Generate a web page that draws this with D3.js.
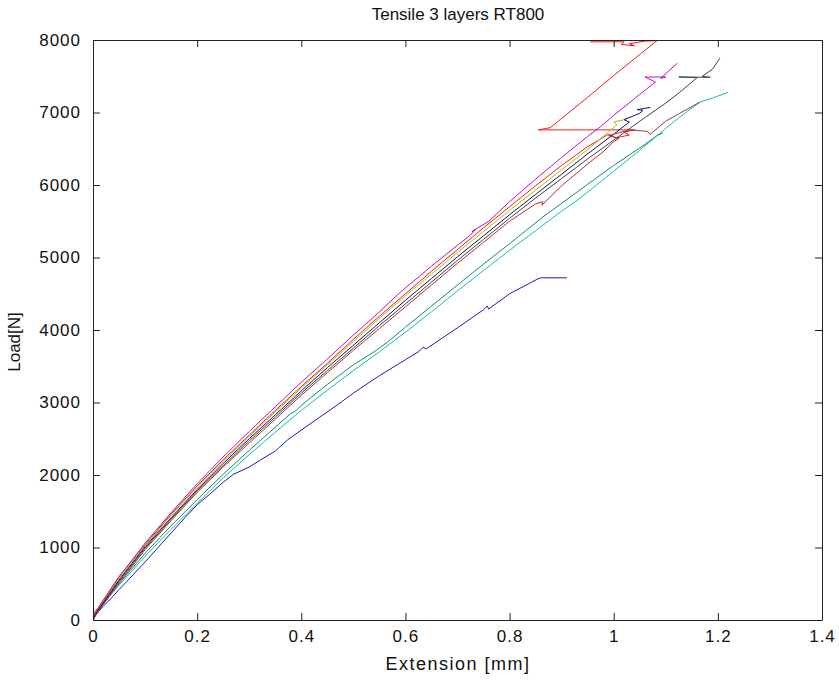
<html>
<head>
    <script src="https://d3js.org/d3.v7.min.js"></script>
    <style>
        body { margin: 0; background: white; }
        text { font-family: "Liberation Sans", Arial, sans-serif; fill: #111; }
        .tick text { font-size: 17px; letter-spacing: 1px; }
    </style>
</head>
<body>
	<script>
        // extension [mm], load [N]
        var blue = [[0,0],[0.004,60],[0.01,110],[0.02,190],[0.035,300],[0.05,420],[0.07,570],[0.1,800],[0.125,1000],[0.15,1200],[0.175,1400],[0.2,1590],[0.225,1740],[0.25,1900],[0.27,2010],[0.3,2110],[0.32,2200],[0.35,2330],[0.373,2480],[0.4,2620],[0.436,2800],[0.47,2970],[0.5,3130],[0.55,3370],[0.6,3590],[0.625,3700],[0.634,3760],[0.64,3740],[0.7,4030],[0.75,4280],[0.757,4330],[0.76,4290],[0.8,4500],[0.853,4700],[0.86,4720],[0.91,4720]];
        var teal = [[0,0],[0.004,80],[0.01,140],[0.03,330],[0.05,500],[0.1,920],[0.15,1300],[0.2,1660],[0.25,2010],[0.3,2340],[0.35,2660],[0.38,2850],[0.39,2890],[0.4,2960],[0.45,3250],[0.5,3520],[0.54,3700],[0.565,3830],[0.6,4040],[0.65,4330],[0.7,4620],[0.75,4910],[0.8,5190],[0.864,5560],[0.91,5800],[0.95,6010],[1.0,6270],[1.05,6510],[1.083,6680],[1.095,6720]];
        var red = [[0,0],[0.004,120],[0.01,170],[0.02,280],[0.05,600],[0.1,1040],[0.15,1460],[0.2,1850],[0.25,2210],[0.3,2550],[0.35,2890],[0.4,3220],[0.45,3540],[0.5,3870],[0.55,4190],[0.6,4500],[0.65,4810],[0.7,5110],[0.75,5410],[0.8,5700],[0.85,5990],[0.9,6270],[0.95,6530],[0.99,6700],[1.005,6650],[1.03,6690],[1.02,6730],[1.04,6760],[0.855,6760],[0.878,6790],[0.95,7210],[1.0,7510],[1.05,7800],[1.083,7990],[1.06,7985],[1.03,7950],[1.04,7920],[1.015,7940],[1.02,7975],[0.955,7975]];
        var cyan = [[0,0],[0.005,70],[0.01,120],[0.03,310],[0.05,480],[0.1,880],[0.15,1250],[0.2,1610],[0.25,1960],[0.3,2280],[0.35,2590],[0.4,2890],[0.45,3170],[0.5,3440],[0.55,3700],[0.6,3970],[0.65,4250],[0.7,4540],[0.75,4820],[0.8,5100],[0.85,5370],[0.9,5640],[0.93,5790],[1.0,6190],[1.05,6480],[1.1,6780],[1.127,6940],[1.166,7145],[1.19,7200],[1.22,7280]];
        var magenta = [[0,0],[0.004,100],[0.01,160],[0.02,270],[0.05,590],[0.1,1060],[0.15,1480],[0.2,1880],[0.25,2250],[0.3,2600],[0.35,2940],[0.4,3280],[0.45,3600],[0.5,3930],[0.55,4250],[0.59,4520],[0.65,4880],[0.7,5170],[0.725,5310],[0.735,5390],[0.728,5360],[0.76,5500],[0.8,5770],[0.85,6080],[0.9,6380],[0.95,6670],[0.974,6800],[1.0,6960],[1.05,7250],[1.08,7420],[1.06,7490],[1.1,7490],[1.09,7470],[1.122,7680]];
        var olive = [[0,0],[0.005,90],[0.01,150],[0.05,570],[0.1,1030],[0.15,1440],[0.2,1830],[0.25,2190],[0.3,2530],[0.35,2870],[0.4,3200],[0.45,3520],[0.5,3840],[0.55,4160],[0.6,4470],[0.65,4770],[0.7,5070],[0.75,5360],[0.8,5650],[0.85,5930],[0.9,6210],[0.95,6490],[1.006,6830],[1.0,6870],[1.02,6900],[1.025,6940]];
        var black = [[0,0],[0.005,70],[0.01,130],[0.05,530],[0.1,990],[0.15,1390],[0.2,1780],[0.25,2130],[0.3,2470],[0.35,2800],[0.4,3130],[0.45,3440],[0.5,3750],[0.55,4060],[0.6,4360],[0.65,4660],[0.7,4960],[0.75,5250],[0.8,5540],[0.85,5820],[0.9,6090],[0.95,6360],[1.0,6620],[1.05,6880],[1.1,7130],[1.127,7280],[1.16,7480],[1.125,7490],[1.185,7485],[1.17,7500],[1.19,7600],[1.204,7750]];
        var navy = [[0,0],[0.005,80],[0.01,140],[0.05,550],[0.1,1010],[0.15,1410],[0.2,1800],[0.25,2160],[0.3,2500],[0.35,2830],[0.4,3160],[0.45,3480],[0.5,3790],[0.55,4100],[0.6,4410],[0.65,4710],[0.7,5010],[0.75,5300],[0.8,5590],[0.85,5870],[0.9,6150],[0.95,6430],[1.0,6700],[1.03,6870],[1.02,6900],[1.05,6990],[1.056,7030],[1.045,7040],[1.07,7070]];
        var brown = [[0,0],[0.005,60],[0.01,120],[0.05,510],[0.1,970],[0.15,1370],[0.2,1760],[0.25,2110],[0.3,2440],[0.35,2770],[0.4,3100],[0.45,3410],[0.5,3720],[0.55,4020],[0.6,4320],[0.65,4620],[0.7,4920],[0.75,5210],[0.8,5500],[0.85,5740],[0.864,5770],[0.862,5720],[0.9,5990],[0.95,6290],[0.98,6460],[1.0,6600],[1.01,6640],[0.99,6680],[1.03,6760],[1.065,6740],[1.07,6700],[1.1,6880],[1.127,6990],[1.166,7145]];

        var series = [blue, teal, red, cyan, magenta, olive, black, navy, brown];
        var colors = ["#1c1cb0", "#1a8a5a", "#ee1c1c", "#10bcbc", "#b416b4", "#b8b800", "#404040", "#101070", "#b03030"];

        var xTicks = [0, 0.2, 0.4, 0.6, 0.8, 1, 1.2, 1.4];
        var yTicks = [0, 1000, 2000, 3000, 4000, 5000, 6000, 7000, 8000];

		var width = 839, height = 680;
        var padL = 93, padR = 822, padT = 40, padB = 620;

		var svg = d3.select("body").append("svg").attr("width", width).attr("height", height)
                    .style("background", "white");

        var x = d3.scaleLinear().domain([0, 1.4]).range([padL, padR]);
        var y = d3.scaleLinear().domain([0, 8000]).range([padB, padT]);

        svg.append("clipPath").attr("id", "plot").append("rect")
            .attr("x", padL).attr("y", padT - 1).attr("width", padR - padL).attr("height", padB - padT + 1);

        var line = d3.line().x(function(d) {return x(d[0]);}).y(function(d) {return y(d[1]);});

        svg.append("g").attr("clip-path", "url(#plot)")
            .selectAll("path").data(series).enter().append("path")
            .attr("d", line)
            .attr("fill", "none")
            .attr("stroke", function(d, i) {return colors[i];})
            .attr("stroke-width", 1);

        // box with inward ticks on all four sides, like matlab
        var fmt = function(d) {return d3.format("")(d);};
        svg.append("g").attr("transform", "translate(0," + padB + ")")
            .call(d3.axisBottom(x).tickValues(xTicks).tickFormat(fmt).tickSizeInner(-7).tickSizeOuter(0).tickPadding(10));
        svg.append("g").attr("transform", "translate(0," + padT + ")")
            .call(d3.axisTop(x).tickValues(xTicks).tickFormat("").tickSizeInner(-7).tickSizeOuter(0));
        svg.append("g").attr("transform", "translate(" + padL + ",0)")
            .call(d3.axisLeft(y).tickValues(yTicks).tickFormat(fmt).tickSizeInner(-7).tickSizeOuter(0).tickPadding(12));
        svg.append("g").attr("transform", "translate(" + padR + ",0)")
            .call(d3.axisRight(y).tickValues(yTicks).tickFormat("").tickSizeInner(-7).tickSizeOuter(0));

        svg.selectAll(".domain, .tick line").attr("stroke", "#222");
        svg.selectAll(".tick text").attr("fill", "#111");

        svg.append("text").attr("x", 458).attr("y", 20).attr("text-anchor", "middle")
            .style("font-size", "17px").text("Tensile 3 layers RT800");
        svg.append("text").attr("x", 458).attr("y", 670).attr("text-anchor", "middle")
            .style("font-size", "18px").style("letter-spacing", "1.5px").text("Extension [mm]");
        svg.append("text").attr("transform", "translate(20,342) rotate(-90)").attr("text-anchor", "middle")
            .style("font-size", "17px").text("Load[N]");
	</script>
</body>
</html>
